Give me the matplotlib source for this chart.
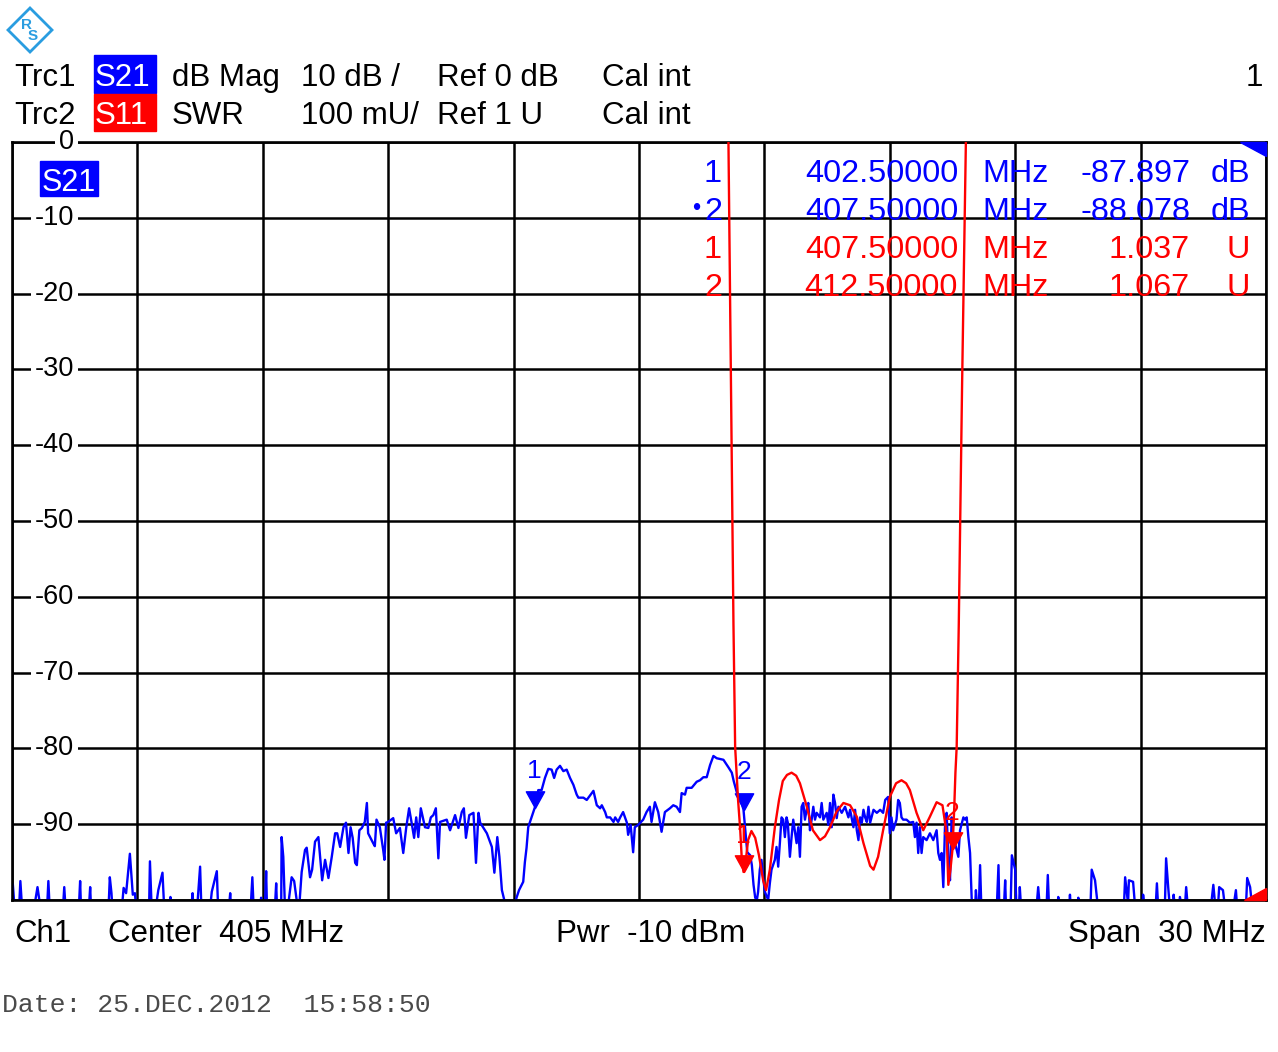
import numpy as np
import matplotlib
matplotlib.use("Agg")
import matplotlib.pyplot as plt
from matplotlib.patches import Rectangle, Polygon
from matplotlib.path import Path
import matplotlib.transforms as mtransforms

plt.rcParams['font.family'] = ['Liberation Sans', 'DejaVu Sans']

# ---------------- data ----------------
center_mhz = 405.0
span_mhz = 30.0
db_ticks = [0, -10, -20, -30, -40, -50, -60, -70, -80, -90]

s21_freq = [
    390.00, 390.02, 390.06, 390.17, 390.20, 390.24, 390.53, 390.61, 390.68, 390.84, 390.87, 390.90,
    391.22, 391.25, 391.28, 391.60, 391.63, 391.65, 391.84, 391.87, 391.89, 392.31, 392.34, 392.38,
    392.40, 392.63, 392.67, 392.73, 392.82, 392.86, 392.89, 392.94, 392.97, 393.28, 393.30, 393.34,
    393.44, 393.50, 393.60, 393.64, 393.77, 393.79, 393.82, 394.29, 394.32, 394.34, 394.43, 394.50,
    394.53, 394.74, 394.78, 394.90, 394.93, 395.19, 395.22, 395.24, 395.71, 395.75, 395.78, 395.93,
    395.96, 395.98, 396.05, 396.08, 396.10, 396.29, 396.32, 396.34, 396.44, 396.45, 396.49, 396.53,
    396.60, 396.69, 396.75, 396.81, 396.87,
    396.93, 397.01, 397.05, 397.13, 397.18, 397.25, 397.33, 397.37, 397.42, 397.49, 397.57, 397.65,
    397.73, 397.78, 397.85, 397.93, 397.99, 398.05, 398.10, 398.15, 398.21, 398.25, 398.31, 398.37,
    398.44, 398.49, 398.52, 398.64, 398.68, 398.72, 398.80, 398.88, 398.91, 398.95, 399.00, 399.12,
    399.19, 399.28, 399.36, 399.43, 399.50, 399.56, 399.62, 399.67, 399.72, 399.78, 399.88, 399.96,
    400.02, 400.08, 400.14, 400.20, 400.24, 400.40, 400.48, 400.60, 400.68, 400.76, 400.81, 400.86,
    400.94, 401.04, 401.10, 401.16, 401.20, 401.36, 401.48, 401.54, 401.61, 401.66, 401.72, 401.79,
    401.87, 402.01,
    402.07, 402.13, 402.23, 402.27, 402.31, 402.35, 402.47, 402.55, 402.59, 402.67, 402.75, 402.83,
    402.91, 402.97, 403.03, 403.11, 403.19, 403.27, 403.35, 403.43, 403.51, 403.55, 403.67, 403.75,
    403.91, 403.99, 404.07, 404.11, 404.19, 404.23, 404.31, 404.39, 404.43, 404.50, 404.55, 404.62,
    404.71, 404.74, 404.80, 404.86, 404.90, 404.98, 405.10, 405.18, 405.26, 405.30, 405.38, 405.46,
    405.54, 405.62, 405.74, 405.82, 405.90, 405.98, 406.02, 406.10, 406.14, 406.26, 406.38, 406.46,
    406.54, 406.62, 406.70, 406.78, 406.86, 407.02, 407.14, 407.22, 407.27, 407.34, 407.42, 407.50,
    407.56, 407.59, 407.66, 407.70, 407.74, 407.78, 407.82, 407.85, 407.89, 407.93, 407.97, 408.01,
    408.09, 408.13, 408.17, 408.25, 408.29, 408.33, 408.37, 408.41, 408.45, 408.49, 408.53, 408.56,
    408.61, 408.65, 408.69, 408.77, 408.81, 408.85, 408.89, 408.93, 408.97, 409.01, 409.05, 409.09,
    409.13, 409.17, 409.21, 409.25, 409.33, 409.37, 409.41, 409.49, 409.53, 409.57, 409.61, 409.65,
    409.69, 409.73, 409.77, 409.85, 409.93, 410.01, 410.05, 410.13, 410.17, 410.21, 410.25, 410.29,
    410.33, 410.37, 410.41, 410.45, 410.49, 410.53, 410.61, 410.69, 410.77, 410.84, 410.89, 410.96,
    411.00, 411.04, 411.08, 411.16, 411.20, 411.24, 411.28, 411.32, 411.40, 411.48, 411.56, 411.60,
    411.64, 411.68, 411.72, 411.76, 411.80, 411.88, 411.96, 412.04, 412.12, 412.16, 412.20, 412.24,
    412.28, 412.32, 412.36, 412.40, 412.44, 412.48, 412.52, 412.56, 412.60, 412.64, 412.68, 412.76,
    412.80, 412.84, 412.88, 412.92, 412.96, 412.98,
    413.04, 413.06, 413.09, 413.13, 413.16, 413.19, 413.56, 413.60, 413.62, 413.73, 413.76, 413.78,
    413.89, 413.92, 414.00, 414.03, 414.09, 414.11, 414.14, 414.51, 414.55, 414.59, 414.75, 414.78,
    414.81, 415.01, 415.03, 415.06, 415.29, 415.31, 415.33, 415.49, 415.51, 415.53, 415.80, 415.83,
    415.91, 415.98, 416.60, 416.63, 416.70, 416.72, 416.82, 416.87, 417.05, 417.06, 417.09, 417.36,
    417.39, 417.42, 417.58, 417.61, 417.66, 417.70, 417.78, 417.79, 417.82, 417.92, 417.94, 417.99,
    418.06, 418.09, 418.13, 418.68, 418.74, 418.79, 418.85, 418.88, 418.97, 419.02, 419.22, 419.28,
    419.31, 419.52, 419.55, 419.62, 419.67, 420.00,
]
s21_db = [
    -101, -97.9, -101, -101, -97.5, -101, -101, -98.3, -101, -101, -97.5, -101,
    -101, -98.3, -101, -101, -97.5, -101, -101, -98.3, -101, -101, -97.0, -99.1,
    -101, -101, -98.4, -99.1, -93.9, -97.0, -99.3, -99.1, -101, -101, -94.9, -101,
    -101, -98.7, -96.4, -101, -101, -99.6, -101, -101, -99.1, -101, -101, -95.6,
    -101, -101, -98.9, -96.2, -101, -101, -99.1, -101, -101, -97.0, -101, -101,
    -99.7, -101, -101, -96.2, -101, -101, -97.8, -101, -101, -91.7, -94.3, -101,
    -101, -97.0, -97.5, -100.0, -101,
    -96.3, -93.4, -93.1, -97.0, -96.0, -92.3, -91.7, -94.3, -97.4, -94.7, -97.1, -94.3,
    -91.2, -91.2, -93.0, -90.4, -89.8, -93.8, -90.4, -91.8, -95.1, -95.4, -90.8, -90.5,
    -89.7, -87.2, -91.2, -92.5, -92.9, -89.4, -90.4, -93.4, -94.7, -89.8, -89.7, -89.2,
    -91.2, -90.5, -93.8, -90.5, -87.9, -89.8, -91.8, -89.1, -91.7, -87.9, -90.4, -90.5,
    -89.1, -88.8, -87.9, -94.5, -89.7, -89.4, -90.8, -88.8, -90.5, -88.4, -87.9, -91.8,
    -88.8, -88.5, -95.1, -88.5, -89.8, -91.2, -93.0, -96.4, -91.7, -94.3, -98.7, -100.3,
    -101, -101,
    -99.7, -98.7, -97.6, -95.0, -93.1, -90.4, -88.4, -87.1, -85.5, -85.5, -83.9, -82.7,
    -82.8, -83.9, -82.8, -82.3, -83.0, -82.8, -83.9, -84.8, -86.1, -86.5, -86.5, -86.8,
    -85.6, -87.5, -87.9, -87.5, -88.4, -89.1, -89.1, -89.7, -89.1, -89.7, -89.1, -88.4,
    -89.8, -91.4, -90.1, -93.7, -90.4, -90.1, -89.4, -88.4, -87.7, -89.7, -87.1, -88.4,
    -91.0, -88.4, -87.9, -87.5, -87.7, -88.4, -85.9, -86.1, -85.2, -85.2, -84.4, -84.2,
    -83.8, -83.8, -82.2, -81.0, -81.3, -81.5, -82.5, -83.2, -84.4, -85.8, -86.5, -88.1,
    -91.8, -93.7, -94.1, -95.4, -98.0, -99.7, -100.0, -98.9, -96.0, -94.7, -97.0, -98.9,
    -100.0, -97.8, -96.0, -94.7, -93.0, -95.6, -92.5, -89.1, -89.4, -91.7, -89.1, -89.8,
    -94.3, -91.7, -89.4, -92.5, -90.4, -94.3, -87.7, -87.2, -89.4, -88.1, -87.2, -90.8,
    -89.4, -87.7, -89.4, -88.5, -89.1, -87.2, -89.4, -88.5, -90.1, -87.2, -90.4, -86.1,
    -87.2, -89.2, -87.7, -88.5, -87.7, -89.1, -88.1, -90.4, -88.1, -90.8, -92.1, -89.1,
    -89.8, -88.1, -89.1, -89.7, -87.7, -89.8, -88.1, -88.5, -88.1, -88.5, -86.8, -86.4,
    -91.2, -89.1, -90.8, -89.4, -86.8, -87.2, -89.1, -89.4, -89.4, -89.8, -89.7, -91.7,
    -89.8, -93.8, -90.4, -93.8, -91.7, -92.1, -91.2, -92.1, -90.8, -93.8, -94.7, -93.8,
    -98.3, -90.4, -88.5, -94.7, -97.4, -89.1, -92.1, -92.5, -93.4, -94.3, -90.8, -89.1,
    -89.4, -89.1, -91.7, -93.8, -100.0, -101,
    -101, -98.7, -101, -101, -95.4, -101, -101, -95.4, -101, -101, -97.4, -101,
    -101, -94.1, -96.0, -101, -101, -98.3, -101, -101, -98.3, -101, -101, -96.7,
    -101, -101, -99.6, -101, -101, -99.3, -101, -101, -99.7, -101, -101, -96.0,
    -97.4, -101, -101, -97.0, -100.5, -97.4, -97.6, -101, -101, -99.3, -101, -101,
    -97.8, -101, -101, -94.5, -98.3, -101, -101, -99.3, -101, -101, -99.6, -101,
    -101, -98.3, -101, -101, -98.0, -101, -101, -98.3, -98.7, -101, -101, -98.7,
    -101, -101, -97.1, -98.3, -101, -101,
]

s11_freq = [
    407.10, 407.14, 407.20, 407.26, 407.30, 407.37, 407.42, 407.46, 407.50, 407.55, 407.61, 407.69,
    407.78, 407.87, 407.97, 408.04, 408.13, 408.25, 408.35, 408.44, 408.54, 408.65, 408.76, 408.85,
    409.01, 409.16, 409.33, 409.45, 409.57, 409.73, 409.89, 410.05, 410.21, 410.37, 410.53, 410.61,
    410.72, 410.84, 411.00, 411.15, 411.28, 411.39, 411.48, 411.64, 411.80, 411.96, 412.12, 412.26,
    412.36, 412.40, 412.45, 412.50, 412.54, 412.57, 412.60, 412.65, 412.73, 412.82, 412.83,
]
s11_swr = [
    2.042, 2.000, 1.682, 1.363, 1.202, 1.132, 1.094, 1.053, 1.037, 1.050, 1.079, 1.091,
    1.082, 1.059, 1.026, 1.013, 1.040, 1.096, 1.132, 1.157, 1.165, 1.168, 1.164, 1.154,
    1.124, 1.092, 1.079, 1.084, 1.096, 1.117, 1.128, 1.125, 1.110, 1.075, 1.045, 1.040,
    1.057, 1.092, 1.136, 1.154, 1.158, 1.154, 1.145, 1.115, 1.092, 1.110, 1.129, 1.125,
    1.088, 1.020, 1.040, 1.067, 1.119, 1.168, 1.202, 1.363, 1.682, 2.000, 2.042,
]

s21_marker_freq = [402.5, 407.5]
s21_marker_db = [-87.897, -88.078]
s11_marker_freq = [407.5, 412.5]
s11_marker_swr = [1.037, 1.067]

# ---------------- figure ----------------
W, H = 1278, 1052
BLUE = '#0000ff'
RED = '#ff0000'
fig = plt.figure(figsize=(W / 100, H / 100), dpi=100)


def fx(x):
    return x / W


def fy(y):
    return 1 - y / H


ax = fig.add_axes([fx(12), fy(900), (1266 - 12) / W, (900 - 142) / H])
ax.set_xlim(center_mhz - span_mhz / 2, center_mhz + span_mhz / 2)
ax.set_ylim(-100, 0)
ax.set_xticks(np.linspace(center_mhz - span_mhz / 2, center_mhz + span_mhz / 2, 11))
ax.set_yticks(np.arange(-100, 1, 10))
ax.grid(True, color='black', lw=1.8, zorder=1)
ax.set_axisbelow(True)
ax.tick_params(length=0, labelbottom=False, labelleft=False)
for s in ax.spines.values():
    s.set_linewidth(1.9)
    s.set_zorder(6)

ax.plot(s21_freq, s21_db, color=BLUE, lw=1.7, zorder=3)

ax2 = ax.twinx()
ax2.set_ylim(1, 2)
ax2.set_axis_off()
ax2.plot(s11_freq, s11_swr, color=RED, lw=1.7, zorder=3)

# marker triangles (tip at value)
tri = Path([(0, 0), (-0.55, 1), (0.55, 1), (0, 0)],
           [Path.MOVETO, Path.LINETO, Path.LINETO, Path.CLOSEPOLY])
ax.plot(s21_marker_freq, s21_marker_db, linestyle='none', marker=tri,
        markersize=24, color=BLUE, zorder=5)
ax2.plot(s11_marker_freq, s11_marker_swr, linestyle='none', marker=tri,
         markersize=24, color=RED, zorder=5)
for i, (f, v) in enumerate(zip(s21_marker_freq, s21_marker_db)):
    ax.annotate(str(i + 1), (f, v), xytext=(0, 27), textcoords='offset points',
                ha='center', va='center', color=BLUE, fontsize=19, zorder=6)
for i, (f, v) in enumerate(zip(s11_marker_freq, s11_marker_swr)):
    ax2.annotate(str(i + 1), (f, v), xytext=(0, 26), textcoords='offset points',
                 ha='center', va='center', color=RED, fontsize=19, zorder=6)

# reference-position indicators
ax.add_patch(Polygon([(0.9793, 1.0), (1.0, 1.0), (1.0, 0.982)], closed=True,
                     transform=ax.transAxes, color=BLUE, zorder=7, clip_on=False))
ax.add_patch(Polygon([(0.9825, 0.0), (1.0, 0.0), (1.0, 0.016)], closed=True,
                     transform=ax.transAxes, color=RED, zorder=7, clip_on=False))

# y tick labels inside the grid
btrans = mtransforms.blended_transform_factory(ax.transAxes, ax.transData)
for v in db_ticks:
    ax.text((74 - 12) / 1254, v, str(v), transform=btrans, ha='right', va='center',
            fontsize=19.5, color='black', zorder=8, clip_on=False,
            bbox=dict(facecolor='white', edgecolor='none', pad=2.5))

# S21 label inside plot
fig.patches.append(Rectangle((fx(40), fy(196)), (98 - 40) / W, (196 - 161) / H,
                             transform=fig.transFigure, color=BLUE, zorder=9))
fig.text(fx(69), fy(191), 'S21', color='white', fontsize=22, ha='center',
         va='baseline', zorder=10)

# ---------------- header ----------------
fs = 22.5
fig.patches.append(Rectangle((fx(94), fy(93)), (156 - 94) / W, (93 - 55) / H,
                             transform=fig.transFigure, color=BLUE, zorder=1))
fig.patches.append(Rectangle((fx(94), fy(131)), (156 - 94) / W, (131 - 94) / H,
                             transform=fig.transFigure, color=RED, zorder=1))
row1 = [(14, 'Trc1', 'black'), (95, 'S21', 'white'), (172, 'dB Mag', 'black'),
        (301, '10 dB /', 'black'), (437, 'Ref 0 dB', 'black'), (602, 'Cal int', 'black')]
row2 = [(14, 'Trc2', 'black'), (95, 'S11', 'white'), (172, 'SWR', 'black'),
        (301, '100 mU/', 'black'), (437, 'Ref 1 U', 'black'), (602, 'Cal int', 'black')]
for x, t, c in row1:
    fig.text(fx(x), fy(86), t, color=c, fontsize=fs, ha='left', va='baseline', zorder=3)
for x, t, c in row2:
    fig.text(fx(x), fy(124), t, color=c, fontsize=fs, ha='left', va='baseline', zorder=3)
fig.text(fx(1263), fy(86), '1', color='black', fontsize=fs, ha='right', va='baseline')

# ---------------- marker table ----------------
table_rows = [
    ('1', '402.50000', 'MHz', '-87.897', 'dB', BLUE, 182),
    ('2', '407.50000', 'MHz', '-88.078', 'dB', BLUE, 220),
    ('1', '407.50000', 'MHz', '1.037', 'U', RED, 258),
    ('2', '412.50000', 'MHz', '1.067', 'U', RED, 296),
]
tfs = 23.3
for num, fr, unit, val, vunit, col, yb in table_rows:
    fig.text(fx(722), fy(yb), num, color=col, fontsize=tfs, ha='right', va='baseline', zorder=4)
    fig.text(fx(958), fy(yb), fr, color=col, fontsize=tfs, ha='right', va='baseline', zorder=4)
    fig.text(fx(982), fy(yb), unit, color=col, fontsize=tfs, ha='left', va='baseline', zorder=4)
    fig.text(fx(1190), fy(yb), val, color=col, fontsize=tfs, ha='right', va='baseline', zorder=4)
    fig.text(fx(1250), fy(yb), vunit, color=col, fontsize=tfs, ha='right', va='baseline', zorder=4)
fig.text(fx(696), fy(209), '\u2022', color=BLUE, fontsize=17, ha='center', va='center', zorder=4)

# ---------------- footer ----------------
fig.text(fx(14), fy(942), 'Ch1', fontsize=fs, ha='left', va='baseline')
fig.text(fx(108), fy(942), 'Center  405 MHz', fontsize=fs, ha='left', va='baseline')
fig.text(fx(556), fy(942), 'Pwr  -10 dBm', fontsize=fs, ha='left', va='baseline')
fig.text(fx(1266), fy(942), 'Span  30 MHz', fontsize=fs, ha='right', va='baseline')
fig.text(fx(2), fy(1012), 'Date: 25.DEC.2012  15:58:50', fontsize=19,
         family=['Liberation Mono', 'DejaVu Sans Mono'], color='#4a4a4a',
         ha='left', va='baseline')

# ---------------- logo ----------------
LOGO = '#2a9de0'
fig.patches.append(Polygon([(fx(30), fy(8)), (fx(52), fy(30)), (fx(30), fy(52)), (fx(8), fy(30))],
                           closed=True, fill=False, edgecolor=LOGO, lw=2.0,
                           transform=fig.transFigure))
fig.text(fx(27), fy(25), 'R', color=LOGO, fontsize=11, fontweight='bold',
         ha='center', va='center')
fig.text(fx(33), fy(36), 'S', color=LOGO, fontsize=11, fontweight='bold',
         ha='center', va='center')

fig.savefig('out.png', dpi=100)
